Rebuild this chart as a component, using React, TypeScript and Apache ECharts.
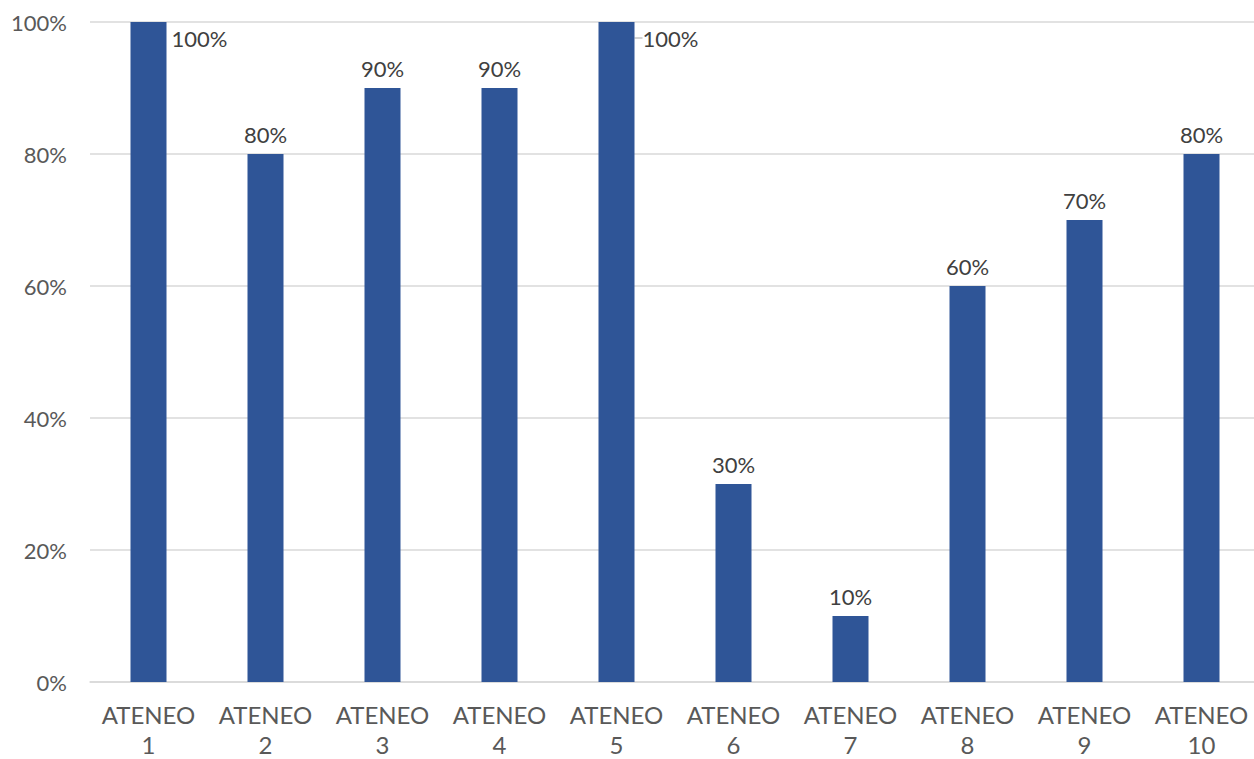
import React, { useEffect, useRef } from "react";
import * as echarts from "echarts";

const categories = ["ATENEO\n1", "ATENEO\n2", "ATENEO\n3", "ATENEO\n4", "ATENEO\n5", "ATENEO\n6", "ATENEO\n7", "ATENEO\n8", "ATENEO\n9", "ATENEO\n10"];
const values = [100, 80, 90, 90, 100, 30, 10, 60, 70, 80];
const yTicks = [0, 20, 40, 60, 80, 100];

export default function App() {
  const ref = useRef<HTMLDivElement>(null);
  useEffect(() => {
    const chart = echarts.init(ref.current!, null, { renderer: "svg" });
    const font = "Lato, 'Open Sans', sans-serif";
    chart.setOption({
      animation: false,
      grid: { left: 90, top: 22, width: 1170, height: 660, containLabel: false, outerBoundsMode: "none" },
      xAxis: {
        type: "category",
        data: categories,
        axisLine: { show: true, lineStyle: { color: "#d9d9d9", width: 1.5 } },
        axisTick: { show: false },
        axisLabel: { color: "#595959", fontSize: 24, fontFamily: font, lineHeight: 30, margin: 17, interval: 0 },
      },
      yAxis: {
        type: "value",
        min: 0,
        max: 100,
        interval: 20,
        axisLine: { show: false },
        axisTick: { show: false },
        splitLine: { lineStyle: { color: "#d9d9d9", width: 1.5 } },
        axisLabel: {
          color: "#595959",
          fontSize: 22,
          fontFamily: font,
          margin: 23,
          formatter: (v: number) => (yTicks.includes(v) ? v + "%" : ""),
        },
      },
      series: [
        {
          type: "bar",
          barWidth: 36,
          itemStyle: { color: "#2F5597" },
          data: values.map((v, i) => {
            if (i === 0) {
              return {
                value: v,
                label: { position: [41, 16], align: "left", verticalAlign: "middle" },
              };
            }
            if (i === 4) {
              return { value: v, labelLine: { show: true, lineStyle: { color: "#a6a6a6", width: 1 } } };
            }
            return v;
          }),
          label: {
            show: true,
            position: "top",
            distance: 9,
            color: "#404040",
            fontSize: 22,
            fontFamily: font,
            formatter: (p: any) => p.value + "%",
          },
          labelLine: { show: false },
          labelLayout: (p: any) => {
            if (p.dataIndex === 4) {
              return { dx: 26 + (p.labelRect ? p.labelRect.width / 2 : 0), dy: 16 + 9 + (p.labelRect ? p.labelRect.height / 2 : 0) };
            }
            return {};
          },
        },
      ],
    });
    return () => chart.dispose();
  }, []);
  return <div ref={ref} style={{ position: "fixed", left: 0, top: 0, width: 1254, height: 759, background: "#fff" }} />;
}
